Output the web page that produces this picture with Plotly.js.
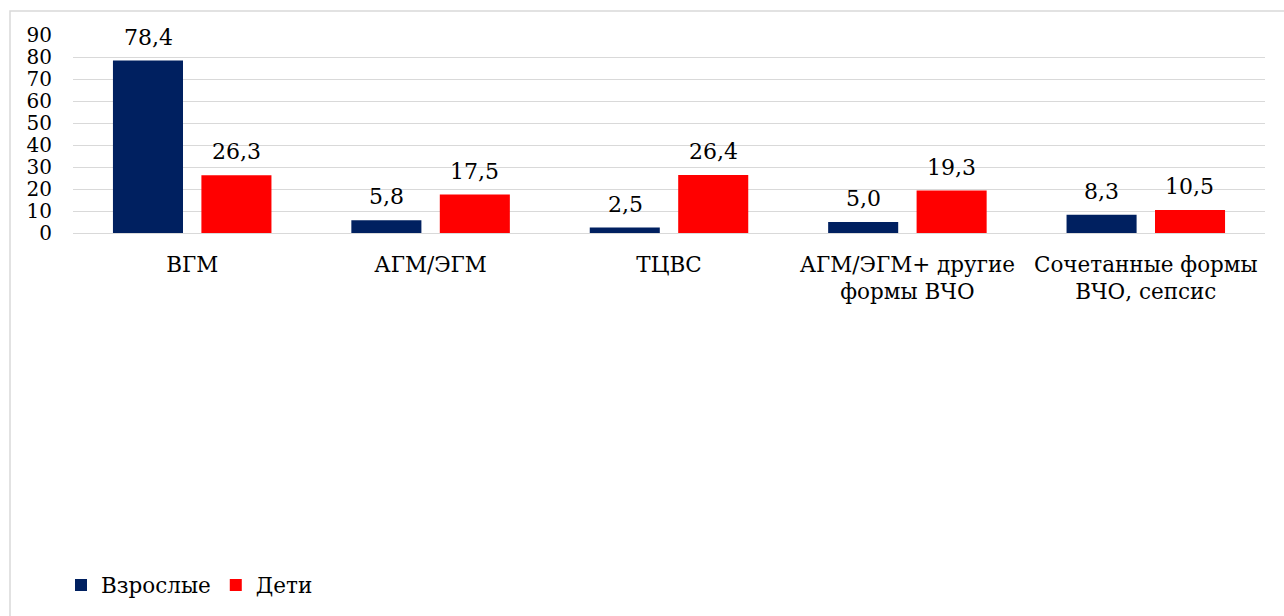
<!DOCTYPE html>
<html>
<head>
<meta charset="utf-8">
<script src="https://cdn.plot.ly/plotly-3.0.1.min.js"></script>
<style>html,body{margin:0;padding:0;background:#fff;}#chart{width:1284px;height:616px;}</style>
</head>
<body>
<div id="chart"></div>
<script>
const categories = ["ВГМ", "АГМ/ЭГМ", "ТЦВС", "АГМ/ЭГМ+ другие<br>формы ВЧО", "Сочетанные формы<br>ВЧО, сепсис"];
const adults = [78.4, 5.8, 2.5, 5.0, 8.3];
const children = [26.3, 17.5, 26.4, 19.3, 10.5];
const seriesNames = ["Взрослые", "Дети"];
const colors = ["#002060", "#FF0000"];
const yTicks = [0, 10, 20, 30, 40, 50, 60, 70, 80, 90];

const W = 1284, H = 616;
const L = 73, R = 19, T = 35, B = 382;
const pw = W - L - R, ph = H - T - B;
const px = v => (v - L) / pw;
const py = v => (H - B - v) / ph;

function mkFont(s) { return {family: "DejaVu Serif", size: s || 21.5, color: "#000"}; }

const traces = [adults, children].map((vals, i) => ({
  type: "bar", name: seriesNames[i], x: categories, y: vals,
  marker: {color: colors[i]}, hoverinfo: "skip"
}));

const ann = [];
[adults, children].forEach((vals, i) => {
  vals.forEach((v, j) => {
    ann.push({x: categories[j], y: v, xref: "x", yref: "y",
      text: v.toFixed(1).replace(".", ","), showarrow: false,
      xanchor: "center", yanchor: "bottom", xshift: i === 0 ? -44 : 44, yshift: 9,
      font: mkFont(22)});
  });
});

const layout = {
  width: W, height: H,
  margin: {l: L, r: R, t: T, b: B},
  paper_bgcolor: "#fff", plot_bgcolor: "#fff",
  font: mkFont(),
  barmode: "group", bargap: 0.258, bargroupgap: 0.208,
  showlegend: true,
  legend: {orientation: "h", x: px(61), y: py(585), xanchor: "left", yanchor: "middle",
    font: mkFont(21.5), itemwidth: 30, traceorder: "normal"},
  xaxis: {type: "category", showgrid: false, showline: false, zeroline: false,
    tickfont: mkFont(21.5), ticks: "", ticklabelstandoff: 16},
  yaxis: {range: [0, 90], tickvals: yTicks, ticktext: yTicks.map(String),
    showgrid: true, gridcolor: "#d9d9d9", gridwidth: 1, zeroline: true, zerolinecolor: "#d9d9d9", zerolinewidth: 1,
    showline: false, ticks: "", tickfont: mkFont(20), ticklabelstandoff: 20, fixedrange: true},
  annotations: ann,
  shapes: [{type: "rect", xref: "paper", yref: "paper",
    x0: px(10), x1: px(1300), y0: py(640), y1: py(11),
    line: {color: "#d9d9d9", width: 1.5}, layer: "below"}]
};

Plotly.newPlot("chart", traces, layout, {displayModeBar: false, staticPlot: true});
</script>
</body>
</html>
